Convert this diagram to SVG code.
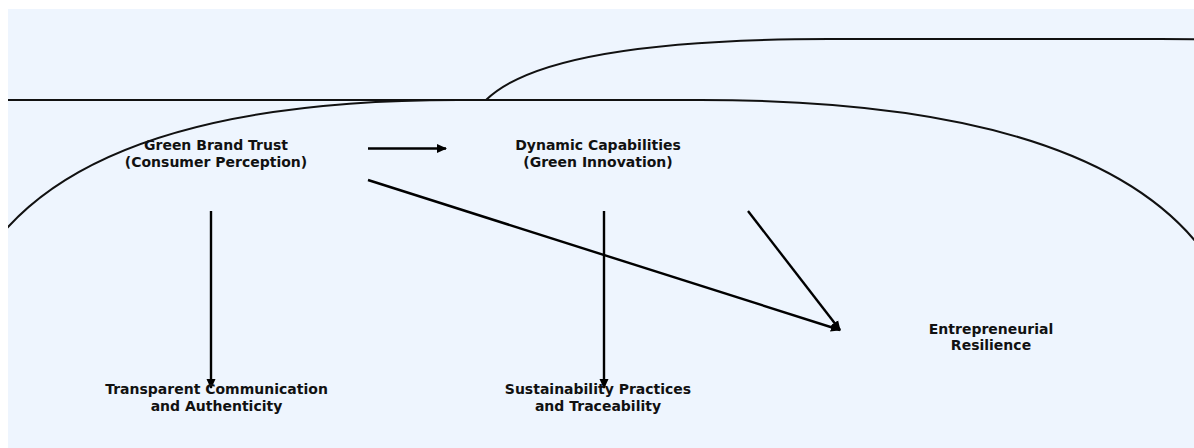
<svg xmlns="http://www.w3.org/2000/svg" width="1194" height="448" viewBox="0 0 1194 448">
<defs>
<clipPath id="area"><rect x="8" y="9" width="1186" height="439"/></clipPath>
<marker id="ah" markerWidth="11" markerHeight="10" refX="9" refY="4.5" orient="auto" markerUnits="userSpaceOnUse" viewBox="0 0 11 9">
<path d="M0,0 L10,4.5 L0,9 z" fill="#000"/>
</marker>
<style>
.t{font-family:"DejaVu Sans","Liberation Sans",sans-serif;font-weight:bold;font-size:14px;fill:#111;text-anchor:middle}
.c{fill:none;stroke:#111;stroke-width:2}
.a{fill:none;stroke:#000;stroke-width:2.4;marker-end:url(#ah)}
</style>
</defs>
<rect x="0" y="0" width="1194" height="448" fill="#ffffff"/>
<rect x="8" y="9" width="1186" height="439" fill="#eef5fe"/>
<g id="frames" clip-path="url(#area)">
<path class="c" d="M8 100 H 487"/>
<path class="c" d="M486 100 Q 548 39 829 39 H 1160 Q 1520 39 1520 139"/>
<path class="c" d="M-55 401 Q -55 100 458 100 H 700 Q 1250 100 1250 401"/>
</g>
<g id="connectors">
<line class="a" x1="368" y1="148.5" x2="446" y2="148.5"/>
<line class="a" x1="368" y1="180" x2="840" y2="330"/>
<line class="a" x1="748" y1="211" x2="840" y2="330"/>
<line class="a" x1="211" y1="211" x2="211" y2="388"/>
<line class="a" x1="604" y1="211" x2="604" y2="388"/>
</g>
<g id="n-green-brand-trust">
<text class="t" x="216" y="150">Green Brand Trust</text>
<text class="t" x="216" y="166.5">(Consumer Perception)</text>
</g>
<g id="n-dynamic-capabilities">
<text class="t" x="598" y="150">Dynamic Capabilities</text>
<text class="t" x="598" y="166.5">(Green Innovation)</text>
</g>
<g id="n-transparent">
<text class="t" x="216.5" y="394">Transparent Communication</text>
<text class="t" x="216.5" y="410.5">and Authenticity</text>
</g>
<g id="n-sustainability">
<text class="t" x="598" y="394">Sustainability Practices</text>
<text class="t" x="598" y="410.5">and Traceability</text>
</g>
<g id="n-resilience">
<text class="t" x="991" y="333.5">Entrepreneurial</text>
<text class="t" x="991" y="350">Resilience</text>
</g>
</svg>
